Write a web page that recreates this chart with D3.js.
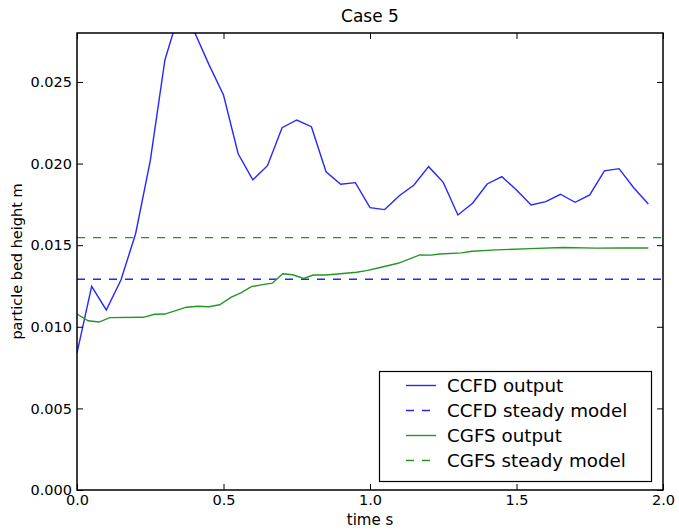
<!DOCTYPE html>
<html>
<head>
<meta charset="utf-8">
<script src="https://cdn.jsdelivr.net/npm/d3@7"></script>
<style>
  html, body { margin: 0; padding: 0; background: #ffffff; }
  svg { display: block; font-family: "DejaVu Sans", sans-serif; }
</style>
</head>
<body>
<svg id="chart" width="679" height="532"></svg>
<script>
// CCFD simulation output, sampled every 0.05 s
const ccfdTime = d3.range(0, 40).map(i => +(i * 0.05).toFixed(2));
const ccfdHeight = [0.0084, 0.01248, 0.01103, 0.01287, 0.0157, 0.02016, 0.02635, 0.0293, 0.0281, 0.02608,
  0.0242, 0.0206, 0.0190, 0.01987, 0.0222, 0.02267, 0.02226, 0.0195, 0.01873, 0.01883,
  0.0173, 0.01718, 0.01803, 0.01869, 0.01981, 0.01885, 0.01685, 0.01757, 0.01875, 0.0192,
  0.01838, 0.01746, 0.01767, 0.01812, 0.01763, 0.01808, 0.01955, 0.01969, 0.01852, 0.01752];

// CGFS simulation output
const cgfsTime = [0, 0.038, 0.075, 0.112, 0.226, 0.265, 0.300, 0.373, 0.413, 0.450,
  0.487, 0.525, 0.561, 0.595, 0.633, 0.667, 0.702, 0.736, 0.774, 0.806,
  0.846, 0.880, 0.954, 0.988, 1.031, 1.096, 1.170, 1.208, 1.238, 1.312,
  1.349, 1.432, 1.546, 1.658, 1.773, 1.853, 1.95];
const cgfsHeight = [0.01078, 0.01037, 0.01029, 0.01056, 0.01058, 0.01077, 0.01078, 0.0112, 0.01126, 0.01123,
  0.01135, 0.0118, 0.0121, 0.01246, 0.01258, 0.01267, 0.01325, 0.01319, 0.01296, 0.01317,
  0.01317, 0.01322, 0.01334, 0.01344, 0.01362, 0.01389, 0.0144, 0.01439, 0.01446, 0.01453,
  0.01463, 0.01471, 0.01479, 0.01486, 0.01482, 0.01483, 0.01483];

// Steady-state model predictions
const ccfdSteady = 0.01291;
const cgfsSteady = 0.01546;

const xTicks = [0.0, 0.5, 1.0, 1.5, 2.0];
const yTicks = [0.000, 0.005, 0.010, 0.015, 0.020, 0.025];

const legendLabels = ["CCFD output", "CCFD steady model", "CGFS output", "CGFS steady model"];
const BLUE = "#2626ff", GREEN = "#259625";

const svg = d3.select("#chart");
const m = { left: 77, right: 663, top: 33, bottom: 490 };

const x = d3.scaleLinear().domain([0, 2]).range([m.left, m.right]);
const y = d3.scaleLinear().domain([0, 0.028]).range([m.bottom, m.top]);

svg.append("defs").append("clipPath").attr("id", "plotclip")
  .append("rect").attr("x", m.left).attr("y", m.top)
  .attr("width", m.right - m.left).attr("height", m.bottom - m.top);

const plot = svg.append("g").attr("clip-path", "url(#plotclip)");

const line = d3.line().x(d => x(d[0])).y(d => y(d[1]));
const LW = 1.4;

plot.append("path")
  .datum(ccfdTime.map((t, i) => [t, ccfdHeight[i]]))
  .attr("d", line).attr("fill", "none").attr("stroke", BLUE).attr("stroke-width", LW);

plot.append("path")
  .datum([[0, ccfdSteady], [2, ccfdSteady]])
  .attr("d", line).attr("fill", "none").attr("stroke", BLUE).attr("stroke-width", LW)
  .attr("stroke-dasharray", "8,8");

plot.append("path")
  .datum(cgfsTime.map((t, i) => [t, cgfsHeight[i]]))
  .attr("d", line).attr("fill", "none").attr("stroke", GREEN).attr("stroke-width", LW);

plot.append("path")
  .datum([[0, cgfsSteady], [2, cgfsSteady]])
  .attr("d", line).attr("fill", "none").attr("stroke", GREEN).attr("stroke-width", LW)
  .attr("stroke-dasharray", "8,8");

// Axes: ticks point inward on all four sides
const tickLen = 6;
const axB = svg.append("g").attr("transform", `translate(0,${m.bottom})`)
  .call(d3.axisBottom(x).tickValues(xTicks).tickFormat(d3.format(".1f")).tickSizeInner(-tickLen).tickSizeOuter(0).tickPadding(5));
const axT = svg.append("g").attr("transform", `translate(0,${m.top})`)
  .call(d3.axisTop(x).tickValues(xTicks).tickFormat("").tickSizeInner(-tickLen).tickSizeOuter(0));
const axL = svg.append("g").attr("transform", `translate(${m.left},0)`)
  .call(d3.axisLeft(y).tickValues(yTicks).tickFormat(d3.format(".3f")).tickSizeInner(-tickLen).tickSizeOuter(0).tickPadding(5));
const axR = svg.append("g").attr("transform", `translate(${m.right},0)`)
  .call(d3.axisRight(y).tickValues(yTicks).tickFormat("").tickSizeInner(-tickLen).tickSizeOuter(0));

[axB, axT, axL, axR].forEach(a => {
  a.select(".domain").remove();
  a.selectAll(".tick line").attr("stroke", "#000").attr("stroke-width", 1);
  a.selectAll("text").attr("fill", "#000").style("font-size", "14.5px").attr("font-family", "DejaVu Sans");
});
axB.selectAll("text").attr("dy", "0.71em");

// Frame
svg.append("rect").attr("x", m.left).attr("y", m.top)
  .attr("width", m.right - m.left).attr("height", m.bottom - m.top)
  .attr("fill", "none").attr("stroke", "#000").attr("stroke-width", 1.5);

// Title and axis labels
svg.append("text").attr("x", (m.left + m.right) / 2).attr("y", 22)
  .attr("text-anchor", "middle").style("font-size", "17px").text("Case 5");
svg.append("text").attr("x", (m.left + m.right) / 2).attr("y", 525)
  .attr("text-anchor", "middle").style("font-size", "15px").text("time s");
svg.append("text").attr("transform", `translate(22,${(m.top + m.bottom) / 2}) rotate(-90)`)
  .attr("text-anchor", "middle").style("font-size", "14.5px").text("particle bed height m");

// Legend
const lg = svg.append("g");
lg.append("rect").attr("x", 379.5).attr("y", 371.5).attr("width", 272).attr("height", 110)
  .attr("fill", "#fff").attr("stroke", "#000").attr("stroke-width", 1.2);
const styles = [
  { c: BLUE, dash: null }, { c: BLUE, dash: "8,8" },
  { c: GREEN, dash: null }, { c: GREEN, dash: "8,8" }
];
legendLabels.forEach((lab, i) => {
  const cy = 385.5 + i * 25;
  lg.append("line").attr("x1", 406).attr("x2", 436).attr("y1", cy).attr("y2", cy)
    .attr("stroke", styles[i].c).attr("stroke-width", LW)
    .attr("stroke-dasharray", styles[i].dash);
  lg.append("text").attr("x", 447).attr("y", cy).attr("dy", "0.36em")
    .style("font-size", "18.3px").text(lab);
});
</script>
</body>
</html>
